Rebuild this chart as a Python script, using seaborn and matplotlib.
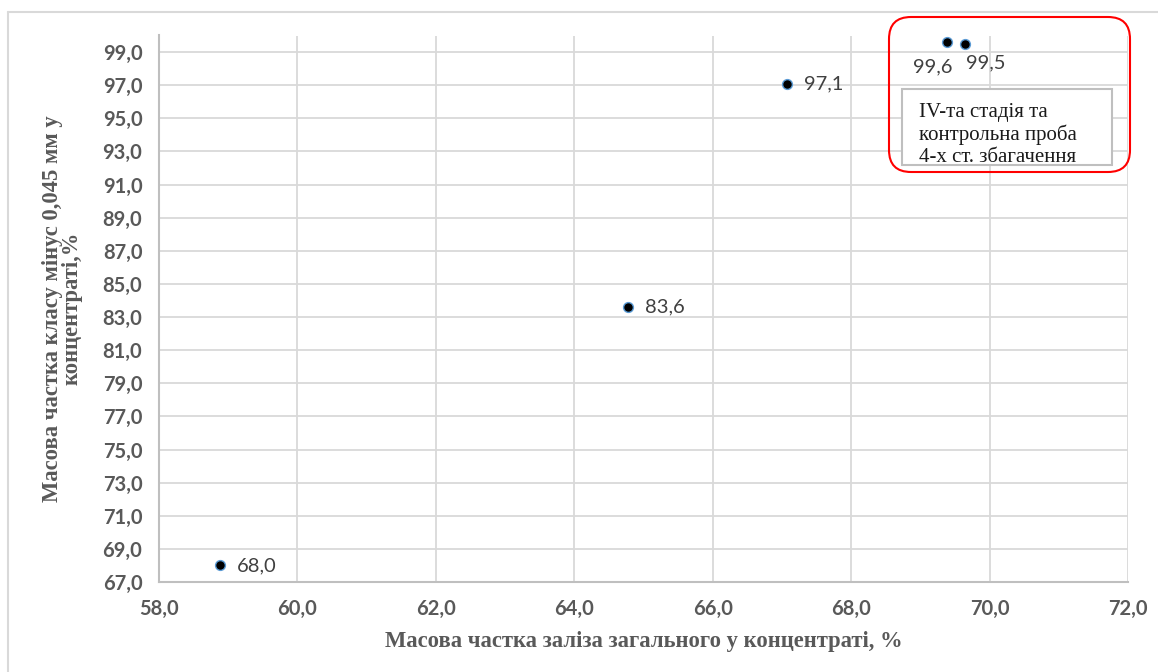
import numpy as np
import pandas as pd
import matplotlib
matplotlib.use("Agg")
import matplotlib.pyplot as plt
from matplotlib.ticker import FuncFormatter, MultipleLocator, FixedLocator
from matplotlib.patches import FancyBboxPatch, Rectangle
import seaborn as sns

# Iron content in concentrate (%) vs. share of the -0.045 mm class (%)
iron_total = [58.88, 64.77, 67.07, 69.39, 69.65]
fines_share = [68.0, 83.6, 97.1, 99.6, 99.5]

x_title = "Масова частка заліза загального у концентраті, %"
y_title = "Масова частка класу мінус 0,045 мм у\nконцентраті,%"
note_text = "IV-та стадія та\nконтрольна проба\n4-х ст. збагачення"

# label offsets in pixels (dx, dy) and horizontal alignment per point
label_offsets = [(17, 0, "left"), (17, 0, "left"), (17, 0, "left"),
                 (-15, -25, "center"), (20, -19, "center")]

sns.set_style("white")
plt.rcParams["font.family"] = ["Lato", "DejaVu Sans"]

df = pd.DataFrame({"iron": iron_total, "fines": fines_share})

fig = plt.figure(figsize=(11.58, 6.72), dpi=100)
ax_h = (582 - 35.5)
ax_w = (1128 - 159)
ax = fig.add_axes([159 / 1158, 1 - 582 / 672, ax_w / 1158, ax_h / 672])

sns.scatterplot(data=df, x="iron", y="fines", ax=ax, s=50, color="black",
                edgecolor="#5b9bd5", linewidth=1.0, zorder=5, legend=False)

comma = FuncFormatter(lambda v, p: f"{v:.1f}".replace(".", ","))
ax.set_xlim(58, 72)
ax.set_ylim(67, 100)
ax.xaxis.set_major_locator(MultipleLocator(2))
ax.yaxis.set_major_locator(FixedLocator(np.arange(67, 100, 2)))
ax.xaxis.set_major_formatter(comma)
ax.yaxis.set_major_formatter(comma)
ax.grid(True, color="#d9d9d9", linewidth=1.3)
ax.set_axisbelow(True)
for side in ("top", "right"):
    ax.spines[side].set_visible(False)
for side in ("bottom", "left"):
    ax.spines[side].set_color("#bfbfbf")
    ax.spines[side].set_linewidth(1.5)
ax.tick_params(axis="both", length=0, labelsize=14.5, labelcolor="#595959")
ax.tick_params(axis="y", pad=12)
ax.tick_params(axis="x", pad=12)
for lbl in ax.get_xticklabels() + ax.get_yticklabels():
    lbl.set_fontweight("bold")

serif = ["Liberation Serif", "DejaVu Serif"]
ax.set_xlabel(x_title, fontsize=16.3, fontweight="bold", color="#595959", family=serif)
ax.set_ylabel(y_title, fontsize=16.3, fontweight="bold", color="#595959", family=serif,
              linespacing=0.95)
ax.xaxis.set_label_coords(0.5, (582 - 631) / ax_h)
ax.yaxis.set_label_coords((83 - 159) / ax_w, 0.5)

for xv, yv, (dx, dy, ha) in zip(iron_total, fines_share, label_offsets):
    ax.annotate(f"{yv:.1f}".replace(".", ","), (xv, yv), xytext=(dx, dy),
                textcoords="offset pixels", ha=ha, va="center",
                fontsize=14.5, color="#404040", zorder=6)

# outer chart border (top and left edges)
fig.add_artist(plt.Line2D([8 / 1158, 1], [1 - 12 / 672, 1 - 12 / 672],
                          transform=fig.transFigure, color="#d9d9d9", lw=1.5))
fig.add_artist(plt.Line2D([8 / 1158, 8 / 1158], [0, 1 - 12 / 672],
                          transform=fig.transFigure, color="#d9d9d9", lw=1.5))

# highlight frame around the last two samples
frame = FancyBboxPatch((8.89, 5.00), 2.41, 1.55,
                       boxstyle="round,pad=0,rounding_size=0.22",
                       transform=fig.dpi_scale_trans, facecolor="none",
                       edgecolor="#ff0000", linewidth=1.5, zorder=10)
fig.add_artist(frame)

note_box = Rectangle((9.02, 5.07), 2.10, 0.76, transform=fig.dpi_scale_trans,
                     facecolor="white", edgecolor="#bfbfbf", linewidth=1.5, zorder=11)
fig.add_artist(note_box)
fig.text(9.19, 5.69, note_text, transform=fig.dpi_scale_trans, ha="left", va="top",
         fontsize=15, color="#1a1a1a", family=serif, linespacing=1.19, zorder=12)

fig.savefig("out.png", dpi=100)
